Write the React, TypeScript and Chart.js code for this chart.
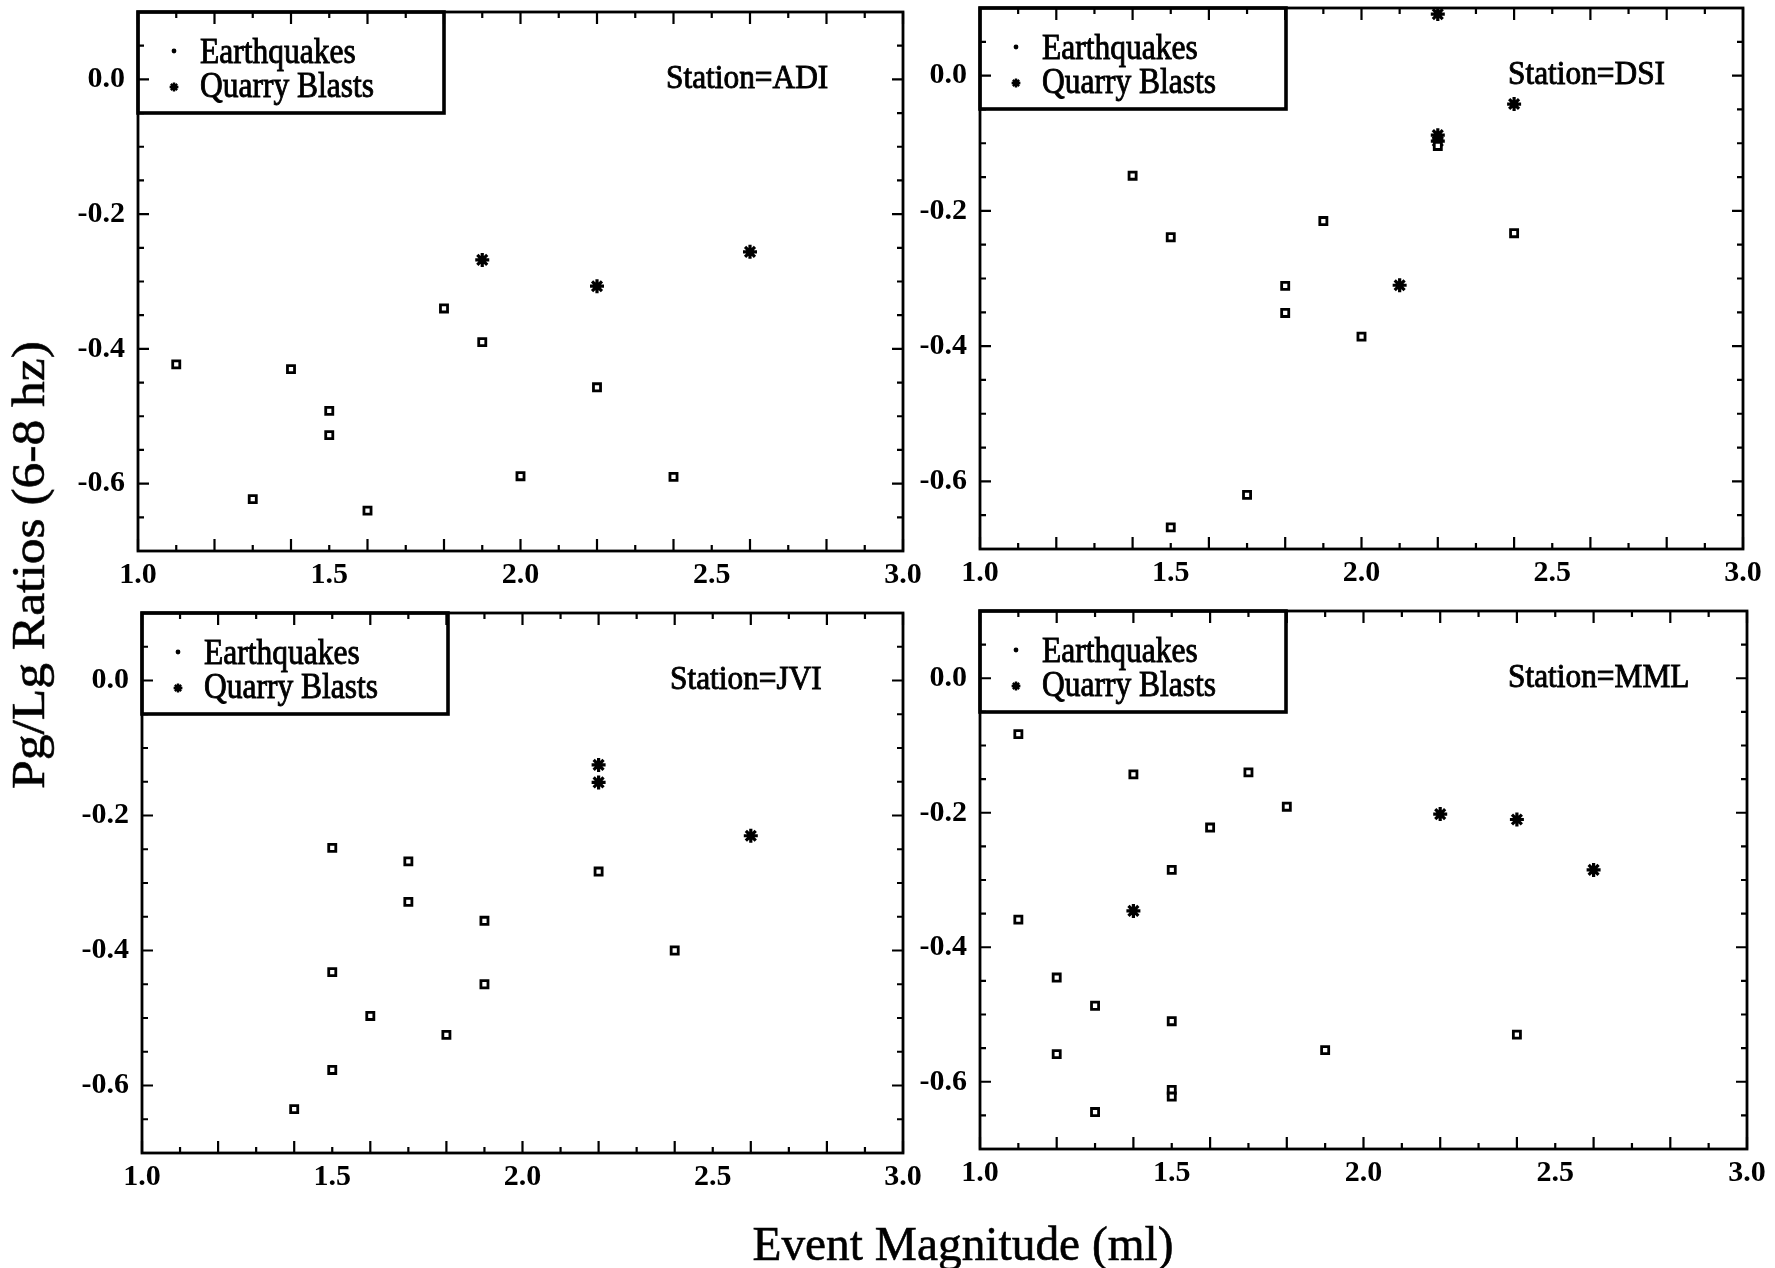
import React, { useEffect, useRef } from "react";
import { Chart, registerables } from "chart.js";

Chart.register(...registerables);

// ---------------- data ----------------
const stationNames = ["ADI", "DSI", "JVI", "MML"];
const legendLabels = ["Earthquakes", "Quarry Blasts"];
const xAxisTitle = "Event Magnitude (ml)";
const yAxisTitle = "Pg/Lg Ratios (6-8 hz)";

const xTickValues = [1.0, 1.5, 2.0, 2.5, 3.0];
const yTickValues = [-0.6, -0.4, -0.2, 0.0];
const xMin = 1.0;
const xMax = 3.0;
const yMin = -0.7;
const yMax = 0.1;

// Station ADI
const adiQuakeMag = [1.1, 1.3, 1.4, 1.5, 1.5, 1.6, 1.8, 1.9, 2.0, 2.2, 2.4];
const adiQuakeRatio = [-0.423, -0.623, -0.43, -0.492, -0.528, -0.64, -0.34, -0.39, -0.589, -0.457, -0.59];
const adiBlastMag = [1.9, 2.2, 2.6];
const adiBlastRatio = [-0.268, -0.307, -0.256];

// Station DSI
const dsiQuakeMag = [1.4, 1.5, 1.5, 1.7, 1.8, 1.8, 1.9, 2.0, 2.2, 2.4];
const dsiQuakeRatio = [-0.148, -0.239, -0.668, -0.62, -0.311, -0.351, -0.215, -0.386, -0.104, -0.233];
const dsiBlastMag = [2.2, 2.2, 2.2, 2.1, 2.4];
const dsiBlastRatio = [0.091, -0.088, -0.097, -0.31, -0.042];

// Station JVI
const jviQuakeMag = [1.5, 1.7, 1.7, 1.9, 2.2, 2.4, 1.5, 1.9, 1.6, 1.8, 1.5, 1.4];
const jviQuakeRatio = [-0.248, -0.268, -0.328, -0.356, -0.283, -0.4, -0.432, -0.45, -0.497, -0.525, -0.577, -0.635];
const jviBlastMag = [2.2, 2.2, 2.6];
const jviBlastRatio = [-0.125, -0.151, -0.23];

// Station MML
const mmlQuakeMag = [1.1, 1.4, 1.7, 1.8, 1.6, 1.5, 1.1, 1.2, 1.3, 1.5, 2.4, 1.9, 1.2, 1.5, 1.5, 1.3];
const mmlQuakeRatio = [-0.083, -0.143, -0.14, -0.191, -0.222, -0.285, -0.359, -0.445, -0.487, -0.51, -0.53, -0.553, -0.559, -0.612, -0.622, -0.645];
const mmlBlastMag = [1.4, 2.2, 2.4, 2.6];
const mmlBlastRatio = [-0.346, -0.202, -0.21, -0.285];

const quakeMags = [adiQuakeMag, dsiQuakeMag, jviQuakeMag, mmlQuakeMag];
const quakeRatios = [adiQuakeRatio, dsiQuakeRatio, jviQuakeRatio, mmlQuakeRatio];
const blastMags = [adiBlastMag, dsiBlastMag, jviBlastMag, mmlBlastMag];
const blastRatios = [adiBlastRatio, dsiBlastRatio, jviBlastRatio, mmlBlastRatio];

// ---------------- layout (page pixels of each plot frame) ----------------
const frames = [
  { l: 138, t: 12, r: 903, b: 551 },
  { l: 980, t: 8, r: 1743, b: 549 },
  { l: 142, t: 613, r: 903, b: 1153 },
  { l: 980, t: 611, r: 1747, b: 1149 },
];
const PAD_L = 110;
const PAD_T = 12;
const PAD_R = 26;
const PAD_B = 58;
const FONT = "'Liberation Serif', 'Times New Roman', serif";

const decorPlugin = {
  id: "panelDecor",
  afterDraw(chart: any) {
    const { ctx, chartArea: a, scales } = chart;
    const xs = scales.x;
    const ys = scales.y;
    const station = chart.options.plugins.panelDecor.station;
    ctx.save();
    ctx.strokeStyle = "#000";
    ctx.fillStyle = "#000";
    // frame
    ctx.lineWidth = 2.8;
    ctx.strokeRect(a.left, a.top, a.right - a.left, a.bottom - a.top);
    // inward x ticks every 0.1
    ctx.lineWidth = 2.2;
    for (let i = 0; i <= 20; i++) {
      const v = xMin + i * 0.1;
      const px = xs.getPixelForValue(v);
      const len = i % 2 === 0 ? 12 : 6;
      ctx.beginPath();
      ctx.moveTo(px, a.bottom);
      ctx.lineTo(px, a.bottom - len);
      ctx.moveTo(px, a.top);
      ctx.lineTo(px, a.top + len);
      ctx.stroke();
    }
    // inward y ticks every 0.05
    for (let j = 0; j <= 16; j++) {
      const v = yMin + j * 0.05;
      const py = ys.getPixelForValue(v);
      const k = Math.round(v * 100);
      const len = k % 20 === 0 ? 11 : 6;
      ctx.beginPath();
      ctx.moveTo(a.left, py);
      ctx.lineTo(a.left + len, py);
      ctx.moveTo(a.right, py);
      ctx.lineTo(a.right - len, py);
      ctx.stroke();
    }
    // legend box
    const bx = a.left;
    const by = a.top;
    ctx.lineWidth = 3.6;
    ctx.strokeRect(bx, by, 306, 101);
    // legend markers
    ctx.beginPath();
    ctx.arc(bx + 36, by + 39, 2.4, 0, Math.PI * 2);
    ctx.fill();
    const sx = bx + 36;
    const sy = by + 75;
    const sr = 4.4;
    ctx.lineWidth = 2.4;
    ctx.beginPath();
    for (let q = 0; q < 4; q++) {
      const ang = (q * Math.PI) / 4;
      ctx.moveTo(sx - Math.cos(ang) * sr, sy - Math.sin(ang) * sr);
      ctx.lineTo(sx + Math.cos(ang) * sr, sy + Math.sin(ang) * sr);
    }
    ctx.stroke();
    // legend text (slightly condensed, ink-heavy like the scan)
    ctx.textAlign = "left";
    ctx.textBaseline = "alphabetic";
    ctx.lineWidth = 0.9;
    const drawText = (t: string, x: number, y: number, size: number, sxScale: number) => {
      ctx.save();
      ctx.translate(x, y);
      ctx.scale(sxScale, 1);
      ctx.font = `${size}px ${FONT}`;
      ctx.fillText(t, 0, 0);
      ctx.strokeText(t, 0, 0);
      ctx.restore();
    };
    drawText(legendLabels[0], bx + 62, by + 51, 35, 0.9);
    drawText(legendLabels[1], bx + 62, by + 85, 35, 0.9);
    drawText(`Station=${station}`, a.left + 528, a.top + 76, 33, 0.95);
    ctx.restore();
  },
};

const zeroPadding = (s: any) => {
  s.paddingTop = 0;
  s.paddingBottom = 0;
  s.paddingLeft = 0;
  s.paddingRight = 0;
};

function Panel({ idx }: { idx: number }) {
  const ref = useRef<HTMLCanvasElement | null>(null);
  const f = frames[idx];
  const w = f.r - f.l + PAD_L + PAD_R;
  const h = f.b - f.t + PAD_T + PAD_B;
  useEffect(() => {
    if (!ref.current) return;
    const quakes = quakeMags[idx].map((m, i) => ({ x: m, y: quakeRatios[idx][i] }));
    const blasts = blastMags[idx].map((m, i) => ({ x: m, y: blastRatios[idx][i] }));
    const chart = new Chart(ref.current, {
      type: "scatter",
      data: {
        datasets: [
          {
            label: legendLabels[0],
            data: quakes,
            pointStyle: "rect",
            pointRadius: 5,
            borderWidth: 2.8,
            borderColor: "#000",
            backgroundColor: "#fff",
            clip: false,
          } as any,
          {
            label: legendLabels[1],
            data: blasts,
            pointStyle: "star",
            pointRadius: 7,
            borderWidth: 3.2,
            borderColor: "#000",
            backgroundColor: "#000",
            clip: false,
          } as any,
        ],
      },
      options: {
        responsive: false,
        animation: false,
        events: [],
        layout: { autoPadding: false, padding: { left: 0, top: PAD_T, right: PAD_R, bottom: 0 } },
        plugins: {
          legend: { display: false },
          tooltip: { enabled: false },
          panelDecor: { station: stationNames[idx] },
        } as any,
        scales: {
          x: {
            type: "linear",
            min: xMin,
            max: xMax,
            grid: { display: false, drawTicks: false },
            border: { display: false },
            ticks: {
              padding: 6,
              color: "#000",
              font: { family: FONT, size: 30, weight: "bold" },
              maxRotation: 0,
              autoSkip: false,
              callback: (v: any) => Number(v).toFixed(1),
            },
            afterBuildTicks: (s: any) => {
              s.ticks = xTickValues.map((v) => ({ value: v }));
            },
            afterFit: (s: any) => {
              s.height = PAD_B;
              zeroPadding(s);
            },
          },
          y: {
            type: "linear",
            min: yMin,
            max: yMax,
            grid: { display: false, drawTicks: false },
            border: { display: false },
            ticks: {
              padding: 13,
              color: "#000",
              font: { family: FONT, size: 30, weight: "bold" },
              autoSkip: false,
              callback: (v: any) => (Math.abs(Number(v)) < 1e-9 ? "0.0" : Number(v).toFixed(1)),
            },
            afterBuildTicks: (s: any) => {
              s.ticks = yTickValues.map((v) => ({ value: v }));
            },
            afterFit: (s: any) => {
              s.width = PAD_L;
              zeroPadding(s);
            },
          },
        },
      } as any,
      plugins: [decorPlugin],
    });
    return () => chart.destroy();
  }, [idx]);
  return (
    <canvas
      ref={ref}
      width={w}
      height={h}
      style={{
        position: "absolute",
        left: f.l - PAD_L,
        top: f.t - PAD_T,
        width: w,
        height: h,
      }}
    />
  );
}

export default function App() {
  return (
    <div
      style={{
        position: "absolute",
        left: 0,
        top: 0,
        width: 1775,
        height: 1268,
        overflow: "hidden",
        background: "#fff",
        fontFamily: FONT,
        color: "#000",
      }}
    >
      {[0, 1, 2, 3].map((i) => (
        <Panel key={i} idx={i} />
      ))}
      <div
        style={{
          position: "absolute",
          left: 963,
          top: 1219,
          fontSize: 49,
          lineHeight: "49px",
          whiteSpace: "nowrap",
          WebkitTextStroke: "0.6px #000",
          transform: "translateX(-50%) scaleX(0.967)",
        }}
      >
        {xAxisTitle}
      </div>
      <div
        style={{
          position: "absolute",
          left: 29,
          top: 565,
          fontSize: 46,
          lineHeight: "46px",
          whiteSpace: "nowrap",
          WebkitTextStroke: "0.6px #000",
          transform: "translate(-50%, -50%) rotate(-90deg) scaleX(1.12)",
        }}
      >
        {yAxisTitle}
      </div>
    </div>
  );
}
